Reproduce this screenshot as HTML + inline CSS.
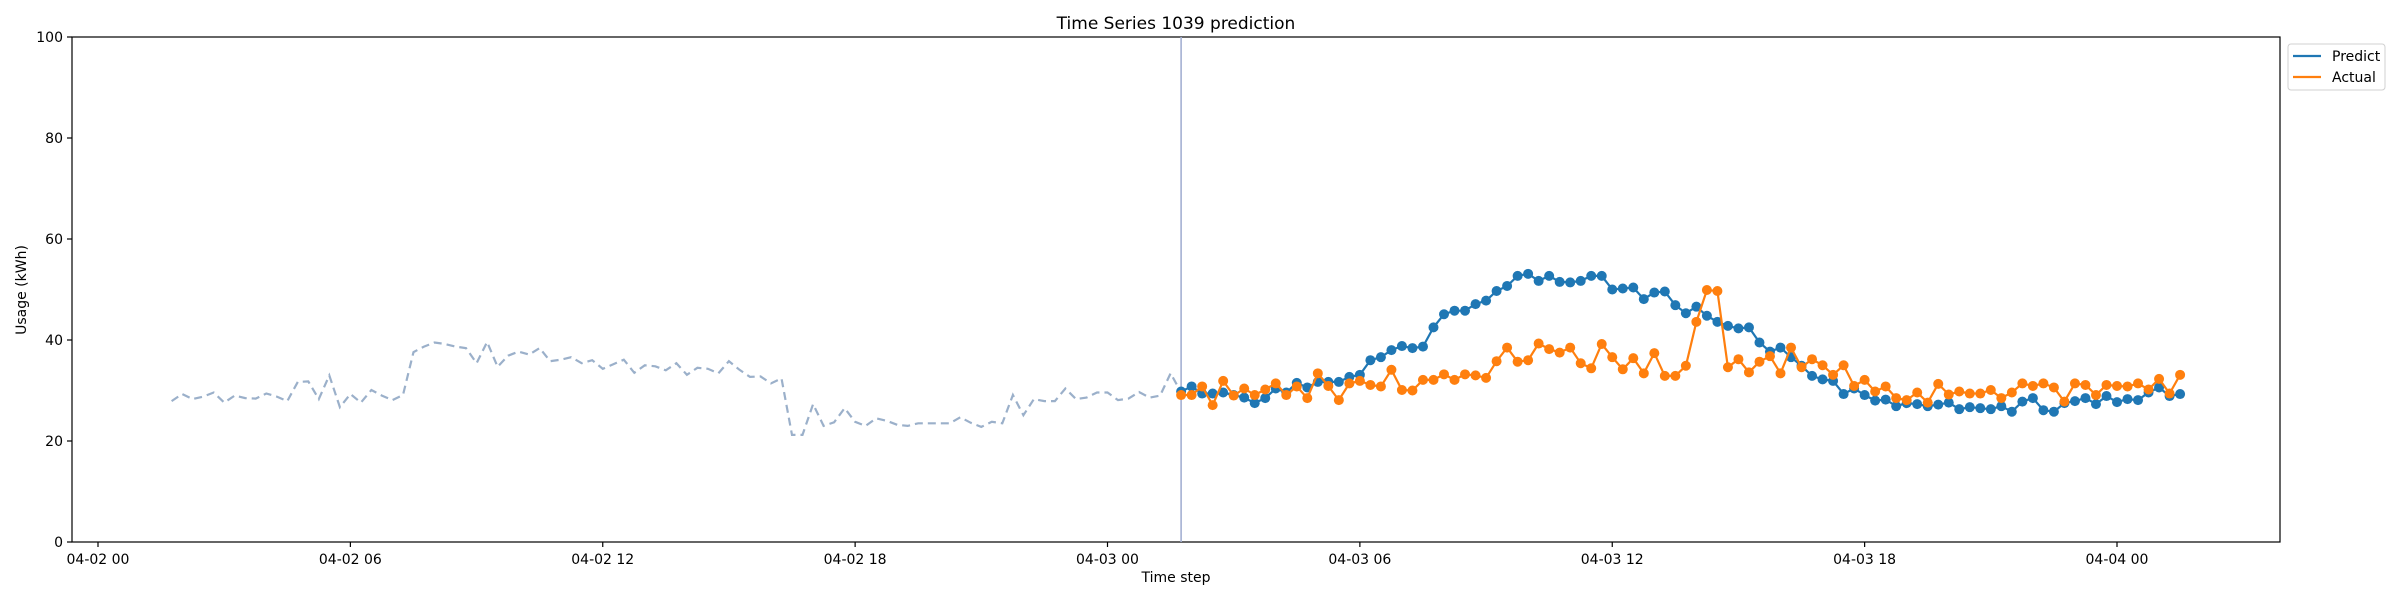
<!DOCTYPE html>
<html><head><meta charset="utf-8"><style>
body{margin:0;background:#fff;}
svg{display:block;font-family:"DejaVu Sans","Liberation Sans",sans-serif;}
</style></head><body>
<svg id="chart" width="2400" height="600" viewBox="0 0 2400 600" xmlns="http://www.w3.org/2000/svg">
<rect x="0" y="0" width="2400" height="600" fill="#fff"/>
<text x="1176" y="29" font-size="17" text-anchor="middle" fill="#000">Time Series 1039 prediction</text>
<g id="plot"></g>
<text x="1176" y="582" font-size="14" text-anchor="middle">Time step</text>
<text x="26" y="290" font-size="14" text-anchor="middle" transform="rotate(-90 26 290)">Usage (kWh)</text>
<g>
<rect x="2288" y="44" width="97" height="46" rx="3" fill="#fff" stroke="#d0d0d0"/>
<line x1="2293" y1="56" x2="2321" y2="56" stroke="#1f77b4" stroke-width="2.2"/>
<text x="2332" y="61" font-size="14">Predict</text>
<line x1="2293" y1="77" x2="2321" y2="77" stroke="#ff7f0e" stroke-width="2.2"/>
<text x="2332" y="82" font-size="14">Actual</text>
</g>
</svg>
<script>
const yTicks = [0, 20, 40, 60, 80, 100];
const xTickLabels = ["04-02 00","04-02 06","04-02 12","04-02 18","04-03 00","04-03 06","04-03 12","04-03 18","04-04 00"];
const xTickHours = [0, 6, 12, 18, 24, 30, 36, 42, 48];
const historyStartHour = 1.75;
const forecastStartHour = 25.75;
const stepHours = 0.25;
const history = [27.9,29.3,28.3,28.8,29.6,27.6,29.0,28.5,28.4,29.4,28.8,27.9,31.7,31.8,28.3,33.0,26.7,29.3,27.6,30.1,29.0,28.1,29.1,
37.6,38.7,39.5,39.2,38.7,38.4,35.4,39.6,34.7,36.9,37.7,37.1,38.4,35.8,36.1,36.6,35.4,36.0,34.3,35.2,36.1,33.5,35.0,34.8,34.0,35.4,
33.1,34.5,34.3,33.4,35.8,34.1,32.7,32.8,31.4,32.4,21.2,21.2,27.3,23.0,23.7,26.5,23.8,23.0,24.5,24.0,
23.2,23.0,23.5,23.5,23.5,23.5,24.7,23.6,22.8,23.8,23.5,29.1,25.1,28.3,27.9,27.9,30.4,28.3,28.6,29.6,
29.6,28.1,28.4,29.7,28.6,29.0,33.4,29.6];
const predict = [29.8,30.8,29.4,29.4,29.6,29.1,28.6,27.5,28.5,30.4,29.6,31.5,30.6,31.7,31.7,31.7,32.7,33.1,36.0,36.6,
38.0,38.8,38.4,38.7,42.5,45.1,45.8,45.8,47.1,47.8,49.7,50.7,52.7,53.1,51.7,52.7,51.5,51.4,51.7,52.7,
52.7,50.0,50.2,50.4,48.1,49.4,49.6,46.9,45.3,
46.6,44.8,43.6,42.8,42.3,42.5,39.5,37.7,38.5,36.6,34.9,32.9,32.2,31.9,29.3,30.4,29.1,28.0,28.2,26.9,
27.5,27.3,26.9,27.2,27.6,26.3,26.7,26.5,26.3,26.9,25.8,27.8,28.5,26.1,25.8,27.5,27.9,28.5,27.3,28.9,
27.7,28.3,28.1,29.6,30.6,28.9,29.3];
const actual = [29.1,29.1,30.8,27.1,31.9,29.0,30.4,29.1,30.2,31.4,29.1,30.8,28.5,33.4,30.9,28.1,31.4,31.9,31.1,30.8,
34.1,30.1,30.0,32.1,32.1,33.2,32.1,33.2,33.0,32.5,35.8,38.5,35.7,36.0,39.3,38.2,37.5,38.5,35.4,34.4,
39.2,36.6,34.2,36.4,33.4,37.4,32.9,32.9,34.9,
43.6,49.9,49.7,34.6,36.2,33.6,35.7,36.8,33.4,38.5,34.6,36.2,35.0,33.1,35.0,30.9,32.1,29.8,30.8,28.5,
28.1,29.6,27.6,31.3,29.2,29.8,29.4,29.4,30.1,28.5,29.6,31.4,30.9,31.4,30.6,27.8,31.4,31.1,29.1,31.1,
30.9,30.8,31.4,30.2,32.3,29.4,33.1];

const L=72,R=2280,T=37,B=542;
function xs(h){return 98 + h*(1107.5-98)/24;}
function ys(v){return B - (v/100)*(B-T);}
const NS="http://www.w3.org/2000/svg";
const g=document.getElementById('plot');
function mk(tag,attrs){const e=document.createElementNS(NS,tag);for(const k in attrs)e.setAttribute(k,attrs[k]);g.appendChild(e);return e;}

let fr=mk('rect',{x:L,y:T,width:R-L,height:B-T,fill:'none',stroke:'#000','stroke-width':1.2});


yTicks.forEach(v=>{
  const y=ys(v);
  const t=mk('line',{x1:L-5,y1:y,x2:L,y2:y,stroke:'#000','stroke-width':1.2});
  
  
  const lb=mk('text',{x:L-9,y:y+5,'font-size':14,'text-anchor':'end'});
  lb.textContent=v;
  
  
});
xTickHours.forEach((h,i)=>{
  const x=xs(h);
  const t=mk('line',{x1:x,y1:B,x2:x,y2:B+5,stroke:'#000','stroke-width':1.2});
  
  
  const lb=mk('text',{x:x,y:B+22,'font-size':14,'text-anchor':'middle'});
  lb.textContent=xTickLabels[i];
  
  
});
const hp=history.map((v,i)=>xs(historyStartHour+i*stepHours).toFixed(1)+','+ys(v).toFixed(1)).join(' ');
const hl=mk('polyline',{points:hp,fill:'none',stroke:'#9bb0ca','stroke-width':2.2,'stroke-dasharray':'8,5'});


const vx=xs(forecastStartHour);
const vl=mk('line',{x1:vx,y1:T,x2:vx,y2:B,stroke:'#a3b0d2','stroke-width':1.6});


function series(arr,color,name){
  const pts=arr.map((v,i)=>xs(forecastStartHour+i*stepHours).toFixed(1)+','+ys(v).toFixed(1)).join(' ');
  const pl=mk('polyline',{points:pts,fill:'none',stroke:color,'stroke-width':2.2});
  
  
  arr.forEach((v,i)=>{
    const c=mk('circle',{cx:xs(forecastStartHour+i*stepHours),cy:ys(v),r:5,fill:color});
    
    
  });
}
series(predict,'#1f77b4','predict');
series(actual,'#ff7f0e','actual');
</script>
</body></html>
